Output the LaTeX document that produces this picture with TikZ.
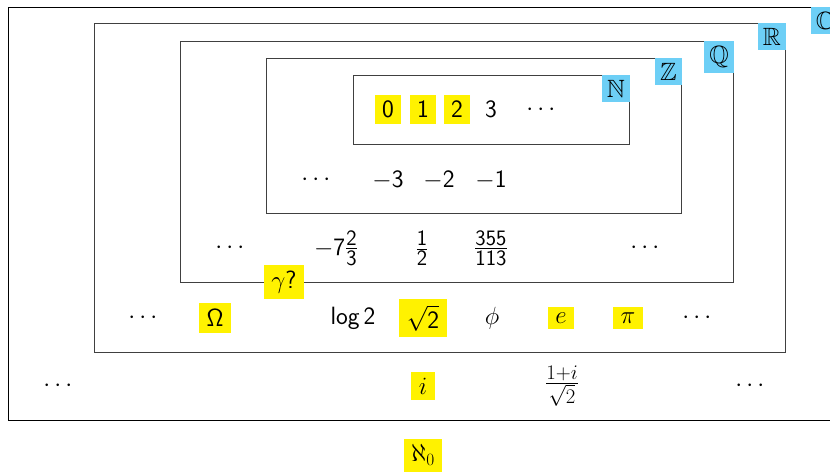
\documentclass[tikz,border=0pt]{standalone}
\usepackage{amsmath,amssymb}
\definecolor{lblblue}{RGB}{109,207,246}
\definecolor{hiyellow}{RGB}{255,242,0}
\newcommand{\sd}[1]{\textsf{#1}}
\newcommand{\smallpart}[1]{\mbox{\fontsize{22}{24}\selectfont #1}}
\newcommand{\sfrac}[2]{\frac{\smallpart{\sffamily #1}}{\smallpart{\sffamily #2}}}
\tikzset{
  txt/.style={font=\fontsize{25}{30}\selectfont\sffamily, inner xsep=7.5pt, inner ysep=6pt, anchor=center},
  hl/.style={txt, fill=hiyellow},
  setlbl/.style={font=\fontsize{25}{30}\selectfont, fill=lblblue, inner sep=5pt, anchor=north east},
  setbox/.style={draw=black!75, line width=1pt, anchor=north west, inner sep=0pt},
  outerbox/.style={draw=black, line width=1pt, anchor=north west, inner sep=0pt}
}
\begin{document}
\begin{tikzpicture}[x=1pt,y=-1pt]
\useasboundingbox (0,0) rectangle (830,472);
% set boxes
\node[outerbox, minimum width=830pt, minimum height=413pt] (C) at (8,7) {};
\node[setbox, minimum width=691pt, minimum height=329pt] (R) at (94,23) {};
\node[setbox, minimum width=553pt, minimum height=241pt] (Q) at (180,41) {};
\node[setbox, minimum width=415pt, minimum height=155pt] (Z) at (266,58) {};
\node[setbox, minimum width=276pt, minimum height=69pt] (N) at (353,75) {};
% labels
\node[setlbl] (lC) at (C.north east) {$\mathbb{C}$};
\node[setlbl] (lR) at (R.north east) {$\mathbb{R}$};
\node[setlbl] (lQ) at (Q.north east) {$\mathbb{Q}$};
\node[setlbl] (lZ) at (Z.north east) {$\mathbb{Z}$};
\node[setlbl] (lN) at (N.north east) {$\mathbb{N}$};
% naturals
\node[hl] (n0) at (388,109.5) {0};
\node[hl] (n1) at (423,109.5) {1};
\node[hl] (n2) at (457,109.5) {2};
\node[txt] (n3) at (491,109.5) {3};
\node[txt] (nd) at (543,109.5) {$\cdots$};
% integers
\node[txt] (zd) at (318,180) {$\cdots$};
\node[txt] (zm3) at (388,180) {$-$3};
\node[txt] (zm2) at (439,180) {$-$2};
\node[txt] (zm1) at (491,180) {$-$1};
% rationals
\node[txt] (qd1) at (232,248) {$\cdots$};
\node[txt] (q1) at (336,248) {$-$7$\sfrac{2}{3}$};
\node[txt] (q2) at (422,248) {$\sfrac{1}{2}$};
\node[txt] (q3) at (491,248) {$\sfrac{355}{113}$};
\node[txt] (qd2) at (647,248) {$\cdots$};
\node[hl] (gam) at (284,282) {$\gamma$?};
% reals
\node[txt] (rd1) at (145,318) {$\cdots$};
\node[hl] (om) at (215,318) {$\mathsf{\Omega}$};
\node[txt] (lg) at (353,318) {log\,2};
\node[hl] (sq) at (423,318) {$\sqrt{\sd{2}}$};
\node[txt] (ph) at (492,318) {$\phi$};
\node[hl] (ee) at (561,318) {$e$};
\node[hl] (pi) at (628,318) {$\pi$};
\node[txt] (rd2) at (699,318) {$\cdots$};
% complex
\node[txt] (cd1) at (60,386) {$\cdots$};
\node[hl] (ii) at (423,386) {$i$};
\node[txt] (cf) at (562,386) {$\frac{\smallpart{$1{+}i$}}{\smallpart{$\sqrt{2}$}}$};
\node[txt] (cd2) at (752,386) {$\cdots$};
% aleph
\node[hl] (al) at (423,455) {$\aleph_0$};
\end{tikzpicture}
\end{document}
